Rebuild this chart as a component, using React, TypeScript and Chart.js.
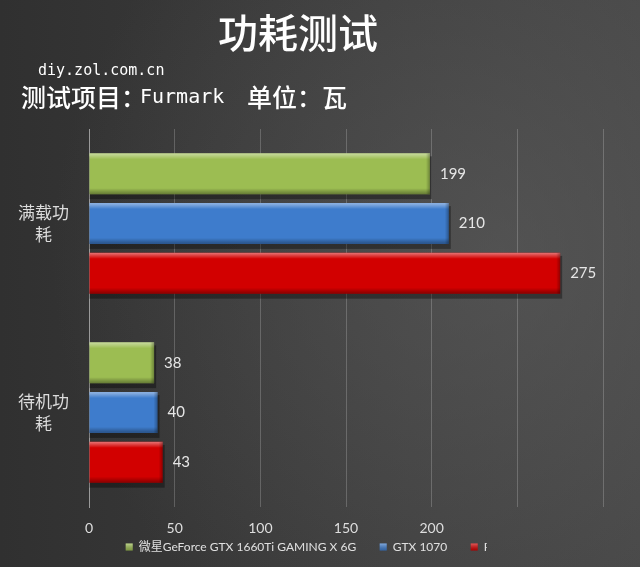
import React, { useEffect, useRef } from 'react';
import { Chart, registerables } from 'chart.js';

Chart.register(...registerables);

// ---- data ----
const categories = ['满载功耗', '待机功耗'];
const seriesNames = ['微星GeForce GTX 1660Ti GAMING X 6G', 'GTX 1070', 'Radeon RX 590 8G'];
const msiValues = [199, 38];
const gtx1070Values = [210, 40];
const thirdValues = [275, 43];
const xTickValues = [0, 50, 100, 150, 200, 250, 300];
const xTickLabels = ['0', '50', '100', '150', '200', '', ''];
const titleText = '功耗测试';
const siteText = 'diy.zol.com.cn';
const testItemText = ['测试项目：', 'Furmark', '单位：瓦'];

const seriesColors = ['#9cbd52', '#3e7ccc', '#d20000'];

const LEGEND_BOX_SPACE = 25.5;
const LEGEND_BOX = 7;
const LEGEND_FONT = 12;

function paintBackground(ctx: CanvasRenderingContext2D, w: number, h: number) {
  const g = ctx.createLinearGradient(0, 0, w, 0);
  g.addColorStop(0, '#303030');
  g.addColorStop(0.6, '#3e3e3e');
  g.addColorStop(1, '#474747');
  ctx.fillStyle = g;
  ctx.fillRect(0, 0, w, h);
  const r = ctx.createRadialGradient(w * 0.78, h * 0.45, 0, w * 0.78, h * 0.45, w * 0.7);
  r.addColorStop(0, 'rgba(95,95,95,0.55)');
  r.addColorStop(1, 'rgba(95,95,95,0)');
  ctx.fillStyle = r;
  ctx.fillRect(0, 0, w, h);
}

const backgroundPlugin = {
  id: 'bgPaint',
  beforeDraw(chart: any) {
    const ctx = chart.ctx;
    ctx.save();
    paintBackground(ctx, chart.width, chart.height);
    ctx.restore();
  },
};

const headerPlugin = {
  id: 'header',
  afterDraw(chart: any) {
    const ctx = chart.ctx as CanvasRenderingContext2D;
    ctx.save();
    ctx.fillStyle = '#ffffff';
    ctx.textBaseline = 'middle';
    ctx.textAlign = 'center';
    ctx.font = '500 40px "Noto Sans CJK SC"';
    ctx.fillText(titleText, 298, 33);
    ctx.textAlign = 'left';
    ctx.font = '15px "DejaVu Sans Mono"';
    ctx.fillText(siteText, 38, 71);
    ctx.font = '500 25px "Noto Sans CJK SC"';
    ctx.fillText(testItemText[0], 21, 97);
    ctx.font = '20px "DejaVu Sans Mono"';
    ctx.fillText(testItemText[1], 140, 98);
    ctx.font = '500 25px "Noto Sans CJK SC"';
    ctx.fillText(testItemText[2], 247, 97);
    ctx.restore();
  },
};

const barStylePlugin = {
  id: 'barStyle',
  beforeDatasetsDraw(chart: any) {
    const ctx = chart.ctx as CanvasRenderingContext2D;
    ctx.save();
    chart.data.datasets.forEach((_: any, i: number) => {
      const meta = chart.getDatasetMeta(i);
      meta.data.forEach((el: any) => {
        const { x, y, base, height } = el.getProps(['x', 'y', 'base', 'height'], true);
        ctx.fillStyle = 'rgba(0,0,0,0.35)';
        ctx.fillRect(base, y - height / 2 + 3, x - base + 2, height + 2);
      });
    });
    ctx.restore();
  },
  afterDatasetsDraw(chart: any) {
    const ctx = chart.ctx as CanvasRenderingContext2D;
    ctx.save();
    chart.data.datasets.forEach((ds: any, i: number) => {
      const meta = chart.getDatasetMeta(i);
      meta.data.forEach((el: any, j: number) => {
        const { x, y, base, height } = el.getProps(['x', 'y', 'base', 'height'], true);
        const top = y - height / 2;
        const bottom = y + height / 2;
        const w = x - base;
        const g1 = ctx.createLinearGradient(0, top, 0, top + 6);
        g1.addColorStop(0, 'rgba(255,255,255,0.45)');
        g1.addColorStop(1, 'rgba(255,255,255,0)');
        ctx.fillStyle = g1;
        ctx.fillRect(base, top, w, 6);
        const g2 = ctx.createLinearGradient(0, bottom - 6, 0, bottom);
        g2.addColorStop(0, 'rgba(0,0,0,0)');
        g2.addColorStop(1, 'rgba(0,0,0,0.35)');
        ctx.fillStyle = g2;
        ctx.fillRect(base, bottom - 6, w, 6);
        const g3 = ctx.createLinearGradient(x - 4, 0, x, 0);
        g3.addColorStop(0, 'rgba(0,0,0,0)');
        g3.addColorStop(1, 'rgba(0,0,0,0.3)');
        ctx.fillStyle = g3;
        ctx.fillRect(x - 4, top, 4, height);
        ctx.fillStyle = '#e6e6e6';
        ctx.font = '15px Lato, "Noto Sans"';
        ctx.textAlign = 'left';
        ctx.textBaseline = 'middle';
        ctx.fillText(String(ds.data[j]), x + 10, y);
      });
    });
    ctx.restore();
  },
};

const legendPlugin = {
  id: 'legendBoxes',
  afterDraw(chart: any) {
    const legend = chart.legend;
    if (!legend || !legend.legendHitBoxes) return;
    const ctx = chart.ctx as CanvasRenderingContext2D;
    ctx.save();
    legend.legendHitBoxes.forEach((hb: any, i: number) => {
      const bx = hb.left + LEGEND_BOX_SPACE - LEGEND_BOX;
      const by = hb.top + (LEGEND_FONT - LEGEND_BOX) / 2;
      ctx.fillStyle = seriesColors[i];
      ctx.fillRect(bx, by, LEGEND_BOX, LEGEND_BOX);
      const g = ctx.createLinearGradient(0, by, 0, by + LEGEND_BOX);
      g.addColorStop(0, 'rgba(255,255,255,0.35)');
      g.addColorStop(1, 'rgba(0,0,0,0.2)');
      ctx.fillStyle = g;
      ctx.fillRect(bx, by, LEGEND_BOX, LEGEND_BOX);
    });
    // the third legend label is cut off in the source picture
    if (legend.legendHitBoxes.length >= 3) {
      const hb = legend.legendHitBoxes[2];
      const cut = hb.left + LEGEND_BOX_SPACE + LEGEND_FONT / 2 + 3;
      ctx.beginPath();
      ctx.rect(cut, legend.top, chart.width - cut, legend.height);
      ctx.clip();
      paintBackground(ctx, chart.width, chart.height);
    }
    ctx.restore();
  },
};

export default function App() {
  const canvasRef = useRef<HTMLCanvasElement | null>(null);

  useEffect(() => {
    document.body.style.margin = '0';
    const canvas = canvasRef.current;
    if (!canvas) return;
    const chart = new Chart(canvas, {
      type: 'bar',
      data: {
        labels: categories,
        datasets: [
          { label: seriesNames[0], data: msiValues, backgroundColor: seriesColors[0], borderWidth: 0 },
          { label: seriesNames[1], data: gtx1070Values, backgroundColor: seriesColors[1], borderWidth: 0 },
          { label: seriesNames[2], data: thirdValues, backgroundColor: seriesColors[2], borderWidth: 0 },
        ],
      },
      options: {
        indexAxis: 'y',
        responsive: false,
        animation: false,
        layout: { padding: { top: 129, right: 37, left: 0, bottom: 4 } },
        datasets: {
          bar: { categoryPercentage: 0.79, barPercentage: 0.82 },
        },
        scales: {
          x: {
            min: 0,
            max: 300,
            afterFit: (scale: any) => {
              scale.height = 29;
            },
            afterBuildTicks: (scale: any) => {
              scale.ticks = xTickValues.map((v) => ({ value: v }));
            },
            grid: { color: 'rgba(255,255,255,0.2)', drawTicks: false, lineWidth: 1 },
            border: { display: false },
            ticks: {
              padding: 14,
              color: '#dedede',
              font: { family: 'Lato, "Noto Sans"', size: 14, lineHeight: 1 },
              callback: (v: any) => {
                const idx = xTickValues.indexOf(Number(v));
                return idx >= 0 ? xTickLabels[idx] : '';
              },
            },
          },
          y: {
            afterFit: (scale: any) => {
              scale.width = 89;
            },
            grid: { display: false, drawTicks: false },
            border: { display: true, color: '#9a9a9a', width: 1 },
            ticks: {
              crossAlign: 'center',
              padding: 20,
              color: '#dcdcdc',
              font: { family: '"Noto Sans CJK SC"', size: 17, lineHeight: 1.3 },
              callback: function (this: any, v: any) {
                const s: string = this.getLabelForValue(v);
                return [s.slice(0, 3), s.slice(3)];
              },
            },
          },
        },
        plugins: {
          legend: {
            position: 'bottom',
            fullSize: false,
            labels: {
              boxWidth: LEGEND_BOX_SPACE,
              boxHeight: LEGEND_BOX,
              padding: 5,
              color: '#e0e0e0',
              font: { family: 'Lato, "Noto Sans CJK SC"', size: LEGEND_FONT },
              generateLabels: (chart: any) =>
                chart.data.datasets.map((ds: any, i: number) => ({
                  text: ds.label,
                  fillStyle: 'rgba(0,0,0,0)',
                  strokeStyle: 'rgba(0,0,0,0)',
                  lineWidth: 0,
                  hidden: false,
                  datasetIndex: i,
                  fontColor: '#e0e0e0',
                })),
            },
          },
          title: { display: false },
          tooltip: { enabled: false },
        },
      },
      plugins: [backgroundPlugin, barStylePlugin, headerPlugin, legendPlugin],
    } as any);
    return () => chart.destroy();
  }, []);

  return (
    <div style={{ width: 640, height: 567 }}>
      <canvas ref={canvasRef} width={640} height={567} style={{ display: 'block' }} />
    </div>
  );
}
